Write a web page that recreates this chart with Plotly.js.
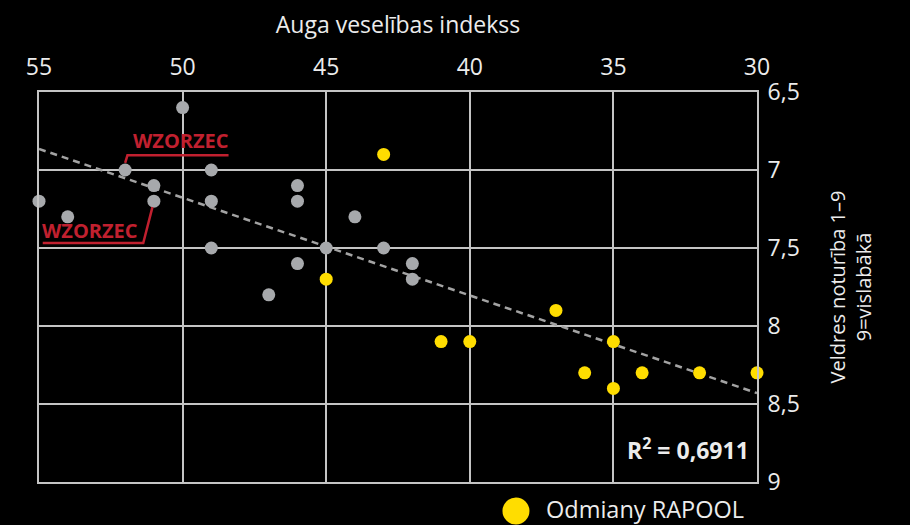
<!DOCTYPE html>
<html><head><meta charset="utf-8">
<script src="https://cdn.plot.ly/plotly-3.0.1.min.js"></script>
<style>html,body{margin:0;padding:0;background:#000;}#chart{width:910px;height:525px;}</style>
</head><body><div id="chart"></div>
<script>
// Reference varieties (grey)
const greyX = [50, 52, 51, 51, 49, 49, 55, 54, 46, 46, 44, 49, 45, 43, 46, 42, 42, 47];
const greyY = [6.6, 7.0, 7.1, 7.2, 7.0, 7.2, 7.2, 7.3, 7.1, 7.2, 7.3, 7.5, 7.5, 7.5, 7.6, 7.6, 7.7, 7.8];
// RAPOOL varieties (yellow)
const rapoolX = [43, 45, 37, 41, 40, 35, 36, 35, 34, 32, 30];
const rapoolY = [6.9, 7.7, 7.9, 8.1, 8.1, 8.1, 8.3, 8.4, 8.3, 8.3, 8.3];
// Trend line
const trendX = [55, 30];
const trendY = [6.865, 8.43];
const xTicks = [55, 50, 45, 40, 35, 30];
const yTicks = [6.5, 7, 7.5, 8, 8.5, 9];
const legendName = 'Odmiany RAPOOL';
const r2Text = 'R<sup>2</sup> = 0,6911';

const gridCol = '#c4c4c4';
const txtCol = '#ececec';
const red = '#c1202f';
const base = '"Open Sans", "Noto Sans", sans-serif';

const traces = [
  {x: trendX, y: trendY, mode: 'lines', type: 'scatter', hoverinfo: 'skip', cliponaxis: false,
   line: {color: '#a3a3a3', width: 2.5, dash: '7px,5px'}, showlegend: false},
  {x: greyX, y: greyY, mode: 'markers', type: 'scatter', showlegend: false, cliponaxis: false,
   marker: {color: '#a7a9ac', size: 13}},
  {x: rapoolX, y: rapoolY, mode: 'markers', type: 'scatter', name: legendName, showlegend: false, cliponaxis: false,
   marker: {color: '#ffdd00', size: 13}}
];

const layout = {
  width: 910, height: 525,
  paper_bgcolor: '#000', plot_bgcolor: '#000',
  separators: ', ',
  margin: {l: 39, r: 153, t: 92, b: 43},
  font: {family: base, color: txtCol, size: 22},
  showlegend: false,
  xaxis: {
    side: 'top', range: [55, 30], tickvals: xTicks, ticktext: xTicks.map(String),
    showgrid: true, gridcolor: gridCol, gridwidth: 2,
    showline: true, linecolor: gridCol, linewidth: 2, mirror: true,
    zeroline: false, ticks: '', ticklabelstandoff: 6,
    tickfont: {family: base, size: 23, color: txtCol},
    title: {text: 'Auga veselības indekss', standoff: 10, font: {family: base, size: 23, color: txtCol}}
  },
  yaxis: {
    side: 'right', range: [9, 6.5], tickvals: yTicks,
    showgrid: true, gridcolor: gridCol, gridwidth: 2,
    showline: true, linecolor: gridCol, linewidth: 2, mirror: true,
    zeroline: false, ticks: '', ticklabelstandoff: 4,
    tickfont: {family: base, size: 23, color: txtCol},
    title: {text: 'Veldres noturība 1–9<br>9=vislabākā', standoff: 32, font: {family: base, size: 20, color: txtCol}}
  },
  shapes: [
    // upper WZORZEC underline + connector
    {type: 'path', xref: 'x', yref: 'y', path: 'M 52.0 6.955 L 51.92 6.906 L 48.40 6.906',
     line: {color: red, width: 2.5}},
    // lower WZORZEC underline + connector
    {type: 'path', xref: 'x', yref: 'y', path: 'M 54.87 7.468 L 51.37 7.468 L 51.05 7.238',
     line: {color: red, width: 2.5}},
    // legend dot
    {type: 'circle', xref: 'paper', yref: 'paper', xsizemode: 'pixel', ysizemode: 'pixel',
     xanchor: 0.6643, yanchor: -0.0744, x0: -13.5, x1: 13.5, y0: -13.5, y1: 13.5,
     fillcolor: '#ffdd00', line: {width: 0}}
  ],
  annotations: [
    {text: '<b>WZORZEC</b>', xref: 'x', yref: 'y', x: 51.8, y: 6.81, xanchor: 'left', yanchor: 'middle',
     showarrow: false, font: {family: base, size: 20, color: red}},
    {text: '<b>WZORZEC</b>', xref: 'x', yref: 'y', x: 54.95, y: 7.39, xanchor: 'left', yanchor: 'middle',
     showarrow: false, font: {family: base, size: 20, color: red}},
    {text: '<b>' + r2Text + '</b>', xref: 'paper', yref: 'paper', x: 0.992, y: 0.085, xanchor: 'right', yanchor: 'middle',
     showarrow: false, font: {family: base, size: 23, color: txtCol}},
    {text: legendName, xref: 'paper', yref: 'paper', x: 0.704, y: -0.068, xanchor: 'left', yanchor: 'middle',
     showarrow: false, font: {family: base, size: 23.5, color: txtCol}}
  ]
};

Plotly.newPlot('chart', traces, layout, {displayModeBar: false, staticPlot: true});
</script></body></html>
